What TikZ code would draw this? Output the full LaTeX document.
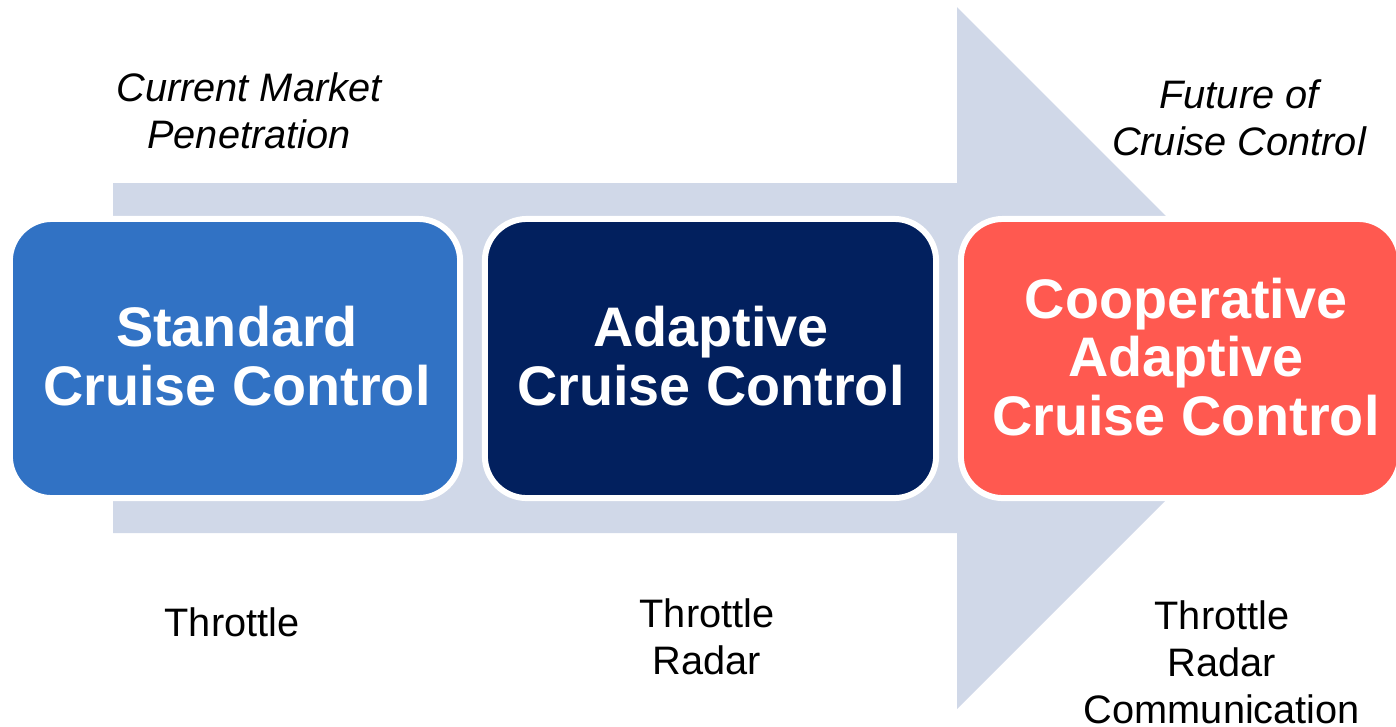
\documentclass[tikz,border=0pt]{standalone}
\usepackage{fontspec}
\setmainfont{Liberation Sans}
\definecolor{arrowfill}{RGB}{208,216,232}
\definecolor{stdblue}{RGB}{49,114,196}
\definecolor{accnavy}{RGB}{2,32,94}
\definecolor{caccred}{RGB}{255,89,80}
\begin{document}
\begin{tikzpicture}[x=0.01cm,y=-0.01cm,
  stage/.style={rectangle, rounded corners=0.42cm, draw=white, line width=1.7pt,
    minimum height=2.79cm, inner sep=0pt},
  stagetext/.style={text=white, font=\fontsize{15.85}{16.6}\selectfont\bfseries, align=center, inner sep=0pt},
  note/.style={font=\fontsize{11.3}{13.4}\selectfont\itshape, align=center, inner sep=0pt},
  feature/.style={font=\fontsize{11.3}{13.4}\selectfont, align=center, inner sep=0pt}]
  \useasboundingbox (0,0) rectangle (1396,726);

  % progression arrow behind the stages
  \fill[arrowfill] (113,183) -- (957,183) -- (957,7) -- (1308,358)
    -- (957,709) -- (957,533) -- (113,533) -- cycle;

  % stage boxes
  \node[stage, fill=stdblue, minimum width=4.50cm] (std) at (235,358.5) {};
  \node[stage, fill=accnavy, minimum width=4.51cm] (acc) at (710.5,358.5) {};
  \node[stage, fill=caccred, minimum width=4.39cm] (cacc) at (1180.5,358.5) {};

  \node[stagetext] (stdtext) at (237,356) {Standard\\Cruise Control};
  \node[stagetext] (acctext) at (711,356) {Adaptive\\Cruise Control};
  \node[stagetext] (cacctext) at (1186,357) {Cooperative\\Adaptive\\Cruise Control};

  % headings above
  \node[note] (market) at (249,111) {Current Market\\Penetration};
  \node[note] (future) at (1239,118) {Future of\\Cruise Control};

  % sensing used by each stage
  \node[feature, anchor=base] (stdfeat) at (232,636) {Throttle};
  \node[feature] (accfeat) at (707,637) {Throttle\\Radar};
  \node[feature] (caccfeat) at (1222,662) {Throttle\\Radar\\Communication};
\end{tikzpicture}
\end{document}
